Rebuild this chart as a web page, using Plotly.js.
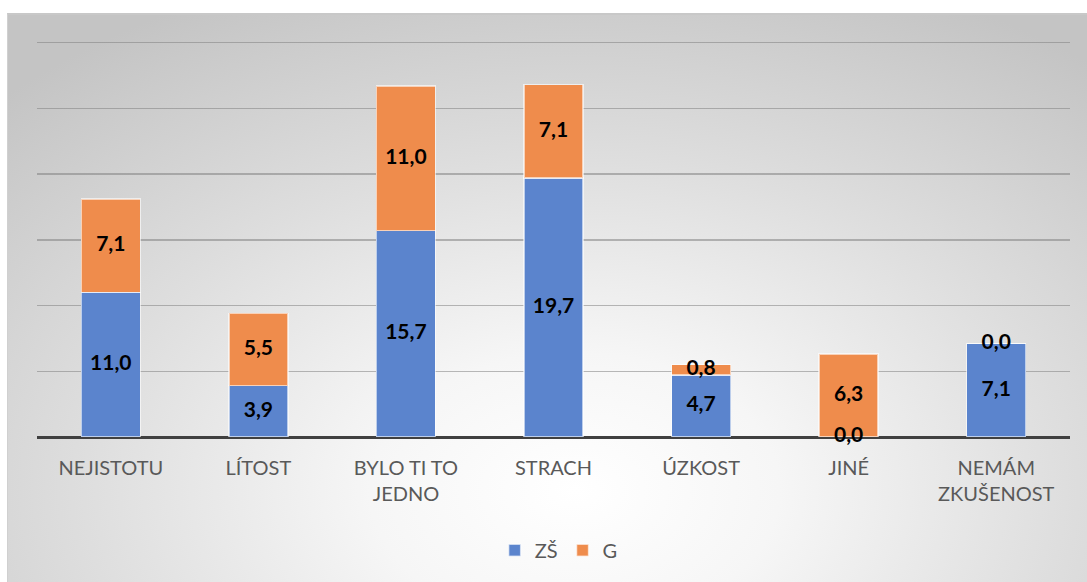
<!DOCTYPE html>
<html>
<head>
<meta charset="utf-8">
<script src="https://cdn.plot.ly/plotly-3.0.1.min.js"></script>
<style>
html,body{margin:0;padding:0;background:#fff;width:1087px;height:582px;overflow:hidden;}
#bg{position:absolute;left:7px;top:13px;width:1090px;height:580px;border-top:2px solid #c8c8c8;border-left:1px solid #d0d0d0;
background:radial-gradient(ellipse 75% 95% at 52% 82%, #ffffff 0%, #f6f6f6 25%, #dedede 60%, #c4c4c4 100%);}
#chart{position:absolute;left:0;top:0;width:1087px;height:582px;}
</style>
</head>
<body>
<div id="bg"></div>
<div id="chart"></div>
<script>
var categories = ["NEJISTOTU", "LÍTOST", "BYLO TI TO<br>JEDNO", "STRACH", "ÚZKOST", "JINÉ", "NEMÁM<br>ZKUŠENOST"];
var zsValues = [11.0, 3.9, 15.7, 19.7, 4.7, 0.0, 7.1];
var gValues = [7.1, 5.5, 11.0, 7.1, 0.8, 6.3, 0.0];
var seriesNames = ["ZŠ", "G"];

function fmt(v){ return v.toFixed(1).replace(".", ","); }

var labelFont = {family: "Lato, 'Open Sans', sans-serif", size: 21, color: "#000000", weight: 700};
var axisFont = {family: "Lato, 'Open Sans', sans-serif", size: 20, color: "#595959"};

var traces = [
  {type: "bar", name: seriesNames[0], x: categories, y: zsValues,
   marker: {color: "#5b84cd", line: {color: "rgba(255,255,255,0.6)", width: 1.5}}, hoverinfo: "skip"},
  {type: "bar", name: seriesNames[1], x: categories, y: gValues,
   marker: {color: "#ef8c4c", line: {color: "rgba(255,255,255,0.6)", width: 1.5}}, hoverinfo: "skip"},
  {type: "scatter", mode: "text", showlegend: false, hoverinfo: "skip", cliponaxis: false,
   x: categories, y: zsValues.map(function(v){return v/2;}),
   text: zsValues.map(fmt), textfont: labelFont},
  {type: "scatter", mode: "text", showlegend: false, hoverinfo: "skip", cliponaxis: false,
   x: categories, y: gValues.map(function(v,i){return zsValues[i] + v/2;}),
   text: gValues.map(fmt), textfont: labelFont}
];

var layout = {
  width: 1087, height: 582,
  margin: {l: 37, r: 17, t: 40, b: 145},
  paper_bgcolor: "rgba(0,0,0,0)", plot_bgcolor: "rgba(0,0,0,0)",
  barmode: "stack", bargap: 0.6,
  showlegend: true,
  legend: {orientation: "h", x: 0.505, xanchor: "center", y: -0.285, yanchor: "middle",
           font: axisFont, traceorder: "normal", itemwidth: 30, tracegroupgap: 0},
  xaxis: {type: "category", tickfont: axisFont,
          showline: false, ticks: "", ticklabelstandoff: 17, fixedrange: true},
  yaxis: {range: [0, 30.2], tickvals: [5, 10, 15, 20, 25, 30], showticklabels: false, showgrid: true,
          gridcolor: "rgba(130,130,130,0.55)", gridwidth: 1.5,
          zeroline: true, zerolinecolor: "#404040", zerolinewidth: 3, fixedrange: true}
};

Plotly.newPlot("chart", traces, layout, {displayModeBar: false, staticPlot: true});
</script>
</body>
</html>
